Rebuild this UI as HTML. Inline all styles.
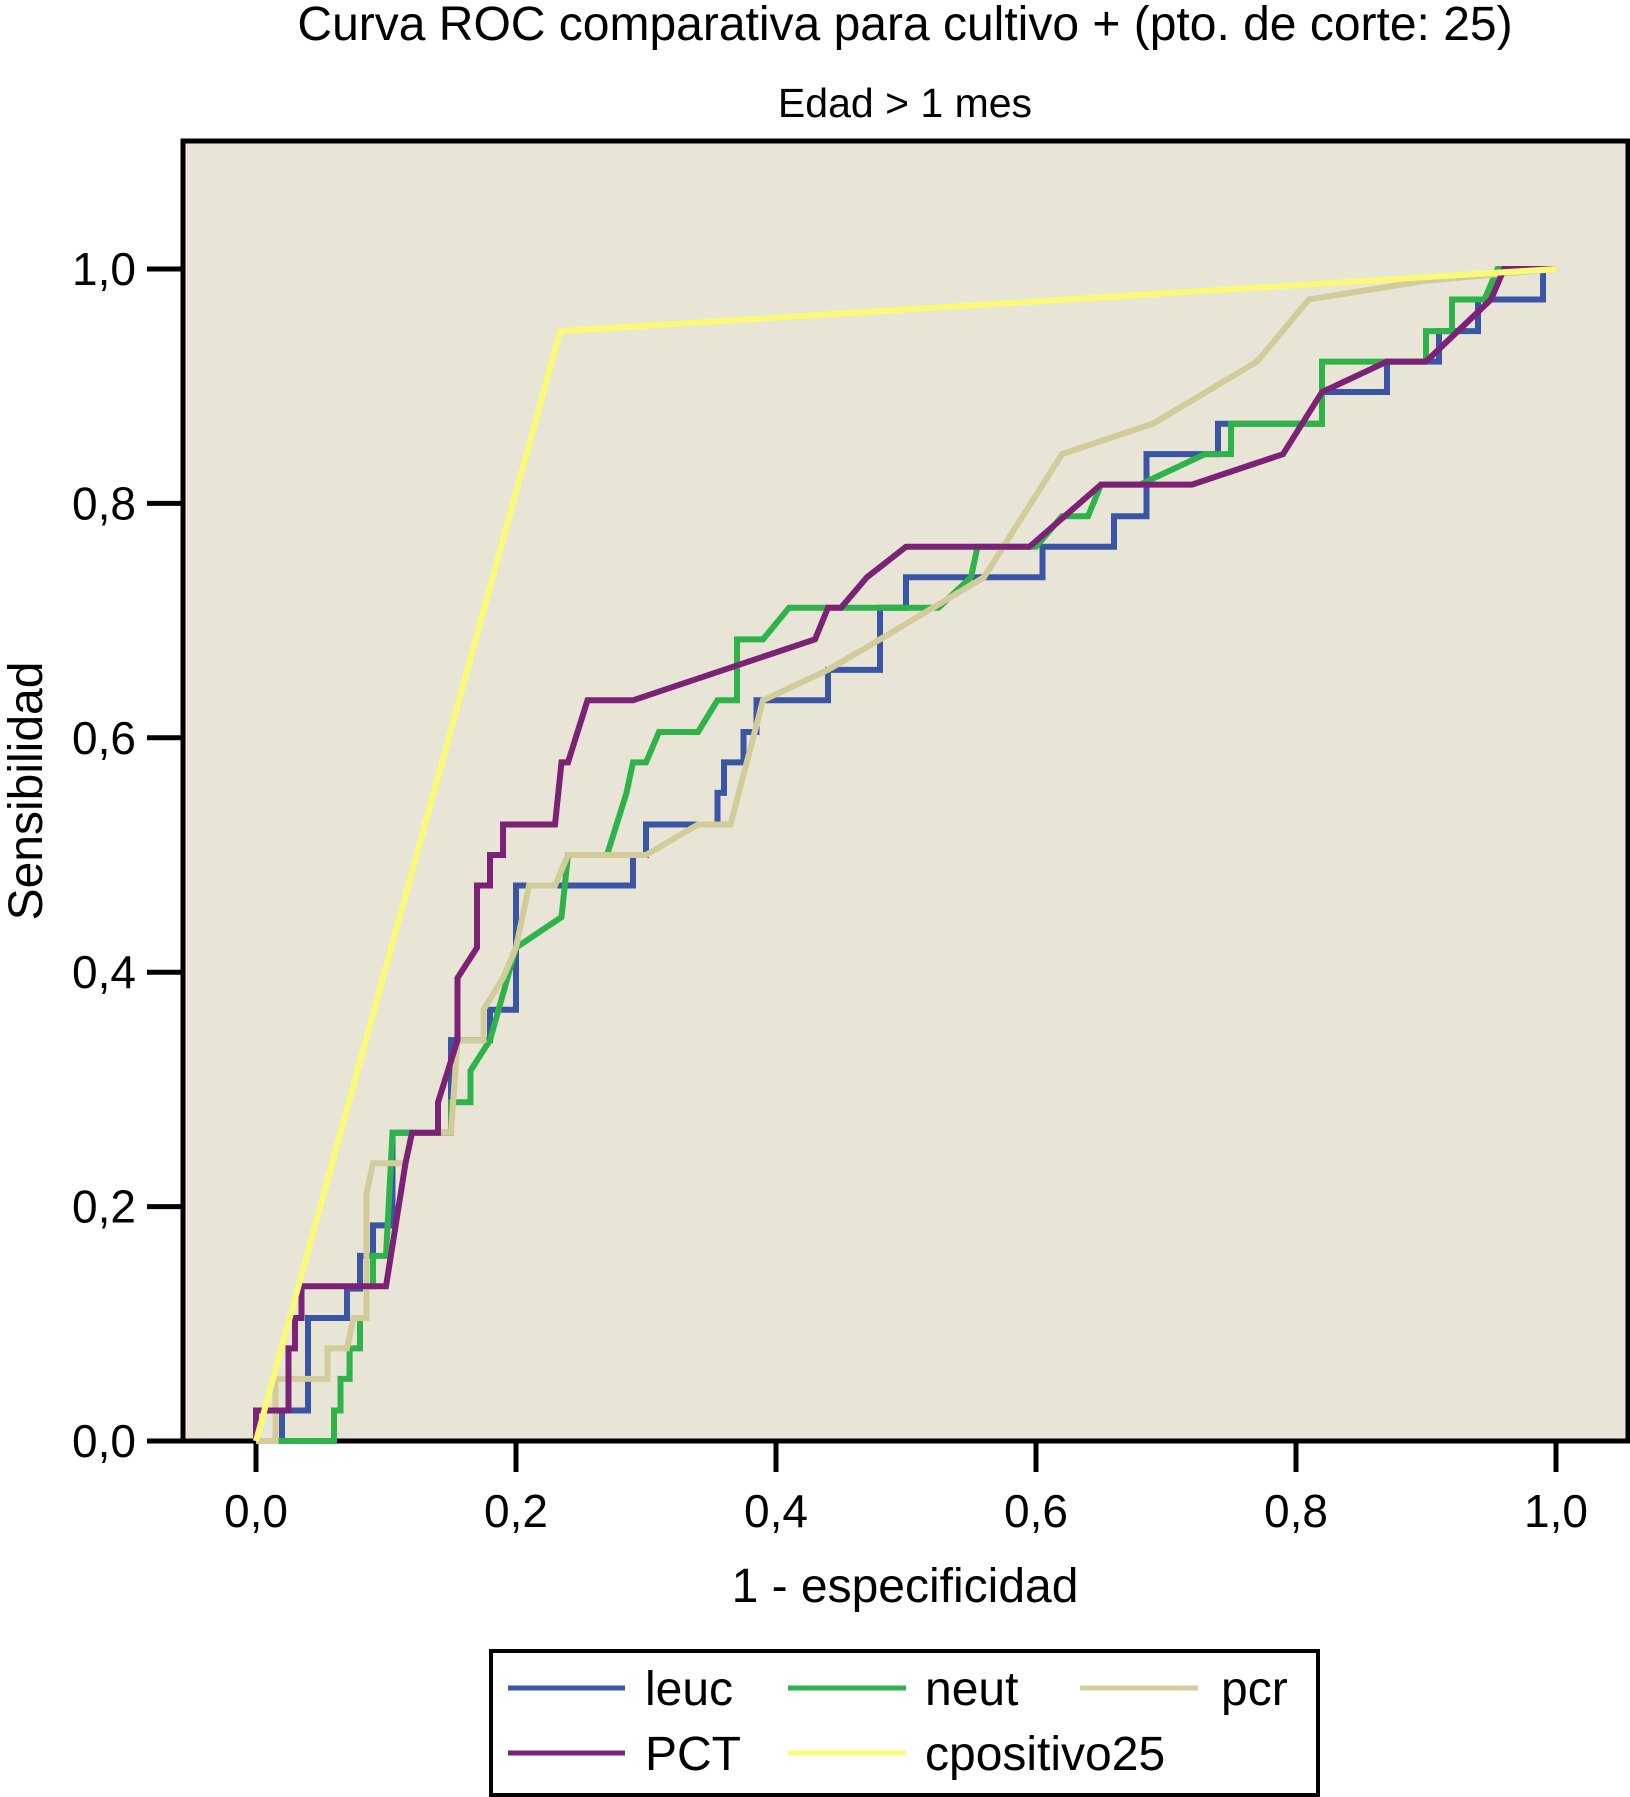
<!DOCTYPE html>
<html><head><meta charset="utf-8"><style>
body{margin:0;background:#fff;}
svg{display:block;font-family:"Liberation Sans",Arial,sans-serif;}
</style></head><body>
<svg id="chart" width="1630" height="1797" viewBox="0 0 1630 1797">
<text x="905" y="40" font-size="48" text-anchor="middle">Curva ROC comparativa para cultivo + (pto. de corte: 25)</text>
<text x="905" y="117" font-size="41" text-anchor="middle">Edad &gt; 1 mes</text>
<rect x="183" y="141" width="1445" height="1300" fill="#e8e4d6" stroke="#000" stroke-width="5"/>
<g id="axes"></g>
<g id="series"></g>
<text x="905" y="1602" font-size="48" text-anchor="middle">1 - especificidad</text>
<text transform="translate(42,791) rotate(-90)" font-size="48" text-anchor="middle">Sensibilidad</text>
<g>
<rect x="491" y="1651" width="827" height="144" fill="#fff" stroke="#000" stroke-width="4"/>
<g><line x1="508" y1="1688" x2="625" y2="1688" stroke="#3b55a5" stroke-width="5"/><text x="645" y="1705" font-size="48">leuc</text></g>
<g><line x1="788" y1="1688" x2="906" y2="1688" stroke="#2db34a" stroke-width="5"/><text x="925" y="1705" font-size="48">neut</text></g>
<g><line x1="1080" y1="1688" x2="1198" y2="1688" stroke="#d2cc9b" stroke-width="5"/><text x="1221" y="1705" font-size="48">pcr</text></g>
<g><line x1="508" y1="1753" x2="625" y2="1753" stroke="#7b2277" stroke-width="5"/><text x="645" y="1770" font-size="48">PCT</text></g>
<g><line x1="788" y1="1753" x2="906" y2="1753" stroke="#fafa78" stroke-width="5"/><text x="925" y="1770" font-size="48">cpositivo25</text></g>
</g>
</svg>
<script>
const xTicks=[0,0.2,0.4,0.6,0.8,1.0];
const yTicks=[0,0.2,0.4,0.6,0.8,1.0];
const tickLabels=["0,0","0,2","0,4","0,6","0,8","1,0"];
const leuc=[[0,0],[0.02,0],[0.02,0.026],[0.04,0.026],[0.04,0.105],[0.07,0.105],[0.07,0.13],[0.08,0.13],[0.08,0.158],[0.09,0.158],[0.09,0.184],[0.105,0.184],[0.105,0.263],[0.15,0.263],[0.15,0.342],[0.18,0.342],[0.18,0.368],[0.2,0.368],[0.2,0.474],[0.29,0.474],[0.29,0.5],[0.3,0.5],[0.3,0.526],[0.355,0.526],[0.355,0.553],[0.36,0.553],[0.36,0.579],[0.375,0.579],[0.375,0.605],[0.385,0.605],[0.385,0.632],[0.44,0.632],[0.44,0.658],[0.48,0.658],[0.48,0.711],[0.5,0.711],[0.5,0.737],[0.605,0.737],[0.605,0.763],[0.66,0.763],[0.66,0.789],[0.685,0.789],[0.685,0.842],[0.74,0.842],[0.74,0.868],[0.82,0.868],[0.82,0.895],[0.87,0.895],[0.87,0.921],[0.91,0.921],[0.91,0.947],[0.94,0.947],[0.94,0.974],[0.99,0.974],[0.99,1],[1,1]];
const neut=[[0,0],[0.06,0],[0.06,0.026],[0.065,0.026],[0.065,0.053],[0.072,0.053],[0.072,0.079],[0.08,0.079],[0.08,0.105],[0.085,0.105],[0.085,0.132],[0.09,0.132],[0.09,0.158],[0.1,0.158],[0.105,0.263],[0.15,0.263],[0.15,0.289],[0.165,0.289],[0.165,0.316],[0.18,0.342],[0.2,0.421],[0.235,0.447],[0.24,0.5],[0.27,0.5],[0.285,0.553],[0.29,0.579],[0.3,0.579],[0.31,0.605],[0.34,0.605],[0.355,0.632],[0.37,0.632],[0.37,0.684],[0.39,0.684],[0.41,0.711],[0.525,0.711],[0.55,0.737],[0.555,0.763],[0.6,0.763],[0.62,0.789],[0.64,0.789],[0.65,0.816],[0.68,0.816],[0.73,0.842],[0.75,0.842],[0.75,0.868],[0.82,0.868],[0.82,0.921],[0.9,0.921],[0.9,0.947],[0.92,0.947],[0.92,0.974],[0.945,0.974],[0.955,1],[1,1]];
const pcr=[[0,0],[0.015,0],[0.015,0.053],[0.055,0.053],[0.055,0.079],[0.07,0.079],[0.075,0.105],[0.085,0.105],[0.085,0.211],[0.09,0.237],[0.115,0.237],[0.12,0.263],[0.15,0.263],[0.155,0.342],[0.175,0.342],[0.175,0.368],[0.19,0.395],[0.2,0.421],[0.21,0.474],[0.23,0.474],[0.24,0.5],[0.3,0.5],[0.34,0.526],[0.365,0.526],[0.39,0.632],[0.44,0.658],[0.48,0.684],[0.56,0.737],[0.62,0.842],[0.69,0.868],[0.77,0.921],[0.81,0.974],[0.9,0.99],[1,1]];
const pct=[[0,0],[0,0.026],[0.025,0.026],[0.025,0.079],[0.03,0.079],[0.03,0.105],[0.035,0.105],[0.035,0.132],[0.1,0.132],[0.115,0.237],[0.12,0.263],[0.14,0.263],[0.14,0.289],[0.155,0.342],[0.155,0.395],[0.17,0.421],[0.17,0.474],[0.18,0.474],[0.18,0.5],[0.19,0.5],[0.19,0.526],[0.23,0.526],[0.235,0.579],[0.24,0.579],[0.255,0.632],[0.29,0.632],[0.43,0.684],[0.44,0.711],[0.45,0.711],[0.47,0.737],[0.5,0.763],[0.595,0.763],[0.65,0.816],[0.72,0.816],[0.79,0.842],[0.82,0.895],[0.87,0.921],[0.9,0.921],[0.95,0.974],[0.96,1],[1,1]];
const cpositivo25=[[0,0],[0.234,0.947],[1,1]];
const seriesNames=["leuc","neut","pcr","pct","cpositivo25"];
const seriesColors=["#3b55a5","#2db34a","#d2cc9b","#7b2277","#fafa78"];
const seriesData=[leuc,neut,pcr,pct,cpositivo25];

const NS="http://www.w3.org/2000/svg";
function sx(v){return 256+v*1300;}
function sy(v){return 1441-v*1172;}
const axes=document.getElementById('axes');
xTicks.forEach((t,i)=>{
  const l=document.createElementNS(NS,'line');
  l.setAttribute('x1',sx(t));l.setAttribute('x2',sx(t));l.setAttribute('y1',1441);l.setAttribute('y2',1472);
  l.setAttribute('stroke','#000');l.setAttribute('stroke-width','5');
  
  
  axes.appendChild(l);
  const tx=document.createElementNS(NS,'text');
  tx.setAttribute('x',sx(t));tx.setAttribute('y',1527);tx.setAttribute('font-size','46');tx.setAttribute('text-anchor','middle');
  tx.textContent=tickLabels[i];
  
  
  axes.appendChild(tx);
});
yTicks.forEach((t,i)=>{
  const l=document.createElementNS(NS,'line');
  l.setAttribute('x1',147);l.setAttribute('x2',183);l.setAttribute('y1',sy(t));l.setAttribute('y2',sy(t));
  l.setAttribute('stroke','#000');l.setAttribute('stroke-width','5');
  
  
  axes.appendChild(l);
  const tx=document.createElementNS(NS,'text');
  tx.setAttribute('x',136);tx.setAttribute('y',sy(t)+16);tx.setAttribute('font-size','46');tx.setAttribute('text-anchor','end');
  tx.textContent=tickLabels[i];
  
  
  axes.appendChild(tx);
});
const sg=document.getElementById('series');
seriesData.forEach((d,i)=>{
  const p=document.createElementNS(NS,'polyline');
  p.setAttribute('points',d.map(q=>sx(q[0])+','+sy(q[1])).join(' '));
  p.setAttribute('fill','none');p.setAttribute('stroke',seriesColors[i]);p.setAttribute('stroke-width','6');
  
  
  sg.appendChild(p);
});
</script>
</body></html>
